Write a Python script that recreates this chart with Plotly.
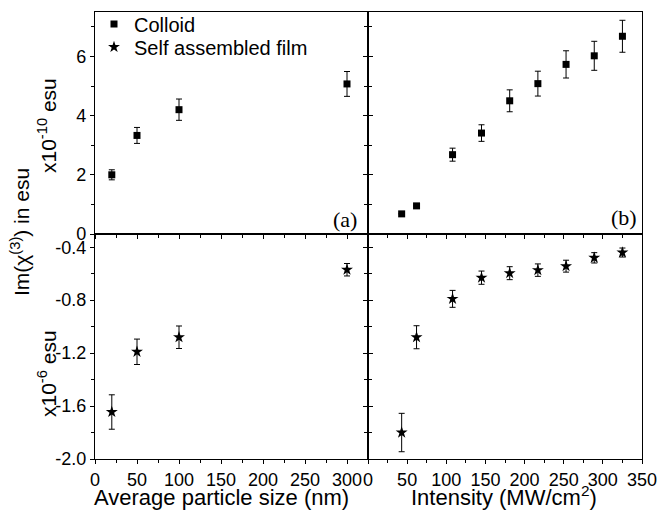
import plotly.graph_objects as go
from plotly.subplots import make_subplots

# ---- data ----
size_nm = [20, 50, 100, 300]
colloid_size = [2.0, 3.33, 4.2, 5.07]
colloid_size_err = [0.17, 0.27, 0.36, 0.42]
film_size = [-1.645, -1.19, -1.08, -0.57]
film_size_err = [0.13, 0.096, 0.085, 0.047]

intensity = [43, 62, 108, 145, 181, 217, 253, 289, 325]
colloid_int = [0.68, 0.95, 2.68, 3.41, 4.5, 5.08, 5.73, 6.02, 6.68]
colloid_int_err = [0, 0, 0.22, 0.28, 0.37, 0.42, 0.46, 0.49, 0.54]
film_int = [-1.80, -1.08, -0.79, -0.63, -0.596, -0.573, -0.543, -0.48, -0.44]
film_int_err = [0.145, 0.087, 0.064, 0.05, 0.049, 0.047, 0.045, 0.039, 0.034]

top_ticks = [0, 2, 4, 6]
bottom_ticks = [-2.0, -1.6, -1.2, -0.8, -0.4]
bottom_tick_text = ["-2.0", "-1.6", "-1.2", "-0.8", "-0.4"]

W, H = 660, 514
FONT = "Liberation Sans, Arial, sans-serif"
SERIF = "Liberation Serif, Times New Roman, serif"

def px(x, y):
    """window pixel -> paper fraction"""
    return x / W, (H - y) / H

fig = make_subplots(rows=2, cols=2, horizontal_spacing=0, vertical_spacing=0)

def err(vals):
    return dict(type="data", array=vals, visible=True, color="black", thickness=1, width=3)

sq = dict(symbol="square", size=7, color="black")
st = dict(symbol="star", size=9, color="black")

fig.add_trace(go.Scatter(x=size_nm, y=colloid_size, mode="markers", marker=sq,
                         error_y=err(colloid_size_err), name="Colloid", legend="legend"), row=1, col=1)
fig.add_trace(go.Scatter(x=size_nm, y=film_size, mode="markers", marker=st,
                         error_y=err(film_size_err), name="Self assembled film", legend="legend2"),
              row=2, col=1)
fig.add_trace(go.Scatter(x=intensity, y=colloid_int, mode="markers", marker=sq,
                         error_y=err(colloid_int_err), showlegend=False), row=1, col=2)
fig.add_trace(go.Scatter(x=intensity, y=film_int, mode="markers", marker=st,
                         error_y=err(film_int_err), showlegend=False), row=2, col=2)

# domains from window pixels
xl0 = px(95, 0)[0]
xm = px(368, 0)[0]
xr1 = px(642, 0)[0]
yt1 = px(0, 12)[1]
ym = px(0, 234)[1]
yb0 = px(0, 459)[1]

common = dict(showline=True, linecolor="black", linewidth=1.2, showgrid=False, zeroline=False,
              ticks="outside", ticklen=4, tickwidth=1, tickcolor="black", automargin=False,
              tickfont=dict(family=FONT, size=18, color="black"))

# x axes
for r, c, dom, rng, lab in [(1, 1, [xl0, xm], [0, 325], False), (1, 2, [xm, xr1], [0, 350], False),
                            (2, 1, [xl0, xm], [0, 325], True), (2, 2, [xm, xr1], [0, 350], True)]:
    fig.update_xaxes(row=r, col=c, domain=dom, range=rng, tick0=0, dtick=50, mirror=True,
                     showticklabels=lab,
                     minor=dict(dtick=25, ticks="outside", ticklen=3, tickcolor="black"),
                     **common)

# y axes
fig.update_yaxes(row=1, col=1, domain=[ym, yt1], range=[0, 7.5], tickvals=top_ticks, mirror="ticks",
                 minor=dict(dtick=1, ticks="outside", ticklen=3, tickcolor="black"), **common)
fig.update_yaxes(row=1, col=2, domain=[ym, yt1], range=[0, 7.5], tickvals=top_ticks, mirror=True,
                 showticklabels=False,
                 minor=dict(dtick=1, ticks="outside", ticklen=3, tickcolor="black"), **common)
fig.update_yaxes(row=2, col=1, domain=[yb0, ym], range=[-2.0, -0.3], tickvals=bottom_ticks,
                 ticktext=bottom_tick_text, mirror="ticks",
                 minor=dict(dtick=0.2, tick0=-2.0, ticks="outside", ticklen=3, tickcolor="black"), **common)
fig.update_yaxes(row=2, col=2, domain=[yb0, ym], range=[-2.0, -0.3], tickvals=bottom_ticks,
                 mirror=True, showticklabels=False,
                 minor=dict(dtick=0.2, tick0=-2.0, ticks="outside", ticklen=3, tickcolor="black"), **common)

annots = []
def ann(text, x, y, size, angle=0, family=FONT):
    ax, ay = px(x, y)
    annots.append(dict(text=text, x=ax, y=ay, xref="paper", yref="paper", showarrow=False,
                       textangle=angle, xanchor="center", yanchor="middle",
                       font=dict(family=family, size=size, color="black")))

ann("Average particle size (nm)", 221, 497, 22)
ann("Intensity (MW/cm<sup>2</sup>)", 504, 496, 22)
ann("Im(χ<sup>(3)</sup>) in esu", 20, 232, 21, -90)
ann("x10<sup>-10</sup> esu", 47, 126, 21, -90)
ann("x10<sup>-6</sup> esu", 47, 374, 21, -90)
ann("(a)", 345, 219, 22, family=SERIF)
ann("(b)", 624, 217, 22, family=SERIF)

leg = dict(xanchor="left", yanchor="middle", bgcolor="rgba(0,0,0,0)",
           font=dict(family=FONT, size=20, color="black"), itemwidth=30)
l1x, l1y = px(94, 24)
l2x, l2y = px(94, 47)

fig.update_layout(
    template="none",
    width=W, height=H, margin=dict(l=0, r=0, t=0, b=0, autoexpand=False),
    paper_bgcolor="white", plot_bgcolor="white",
    annotations=annots,
    showlegend=True,
    legend=dict(x=l1x, y=l1y, **leg),
    legend2=dict(x=l2x, y=l2y, **leg),
)

# remove the default 8px page margin so the figure fills the 660x514 window exactly
fig.write_html("out.html",
               config={"displayModeBar": False},
               post_script="document.body.style.margin='0';document.body.style.overflow='hidden';")
